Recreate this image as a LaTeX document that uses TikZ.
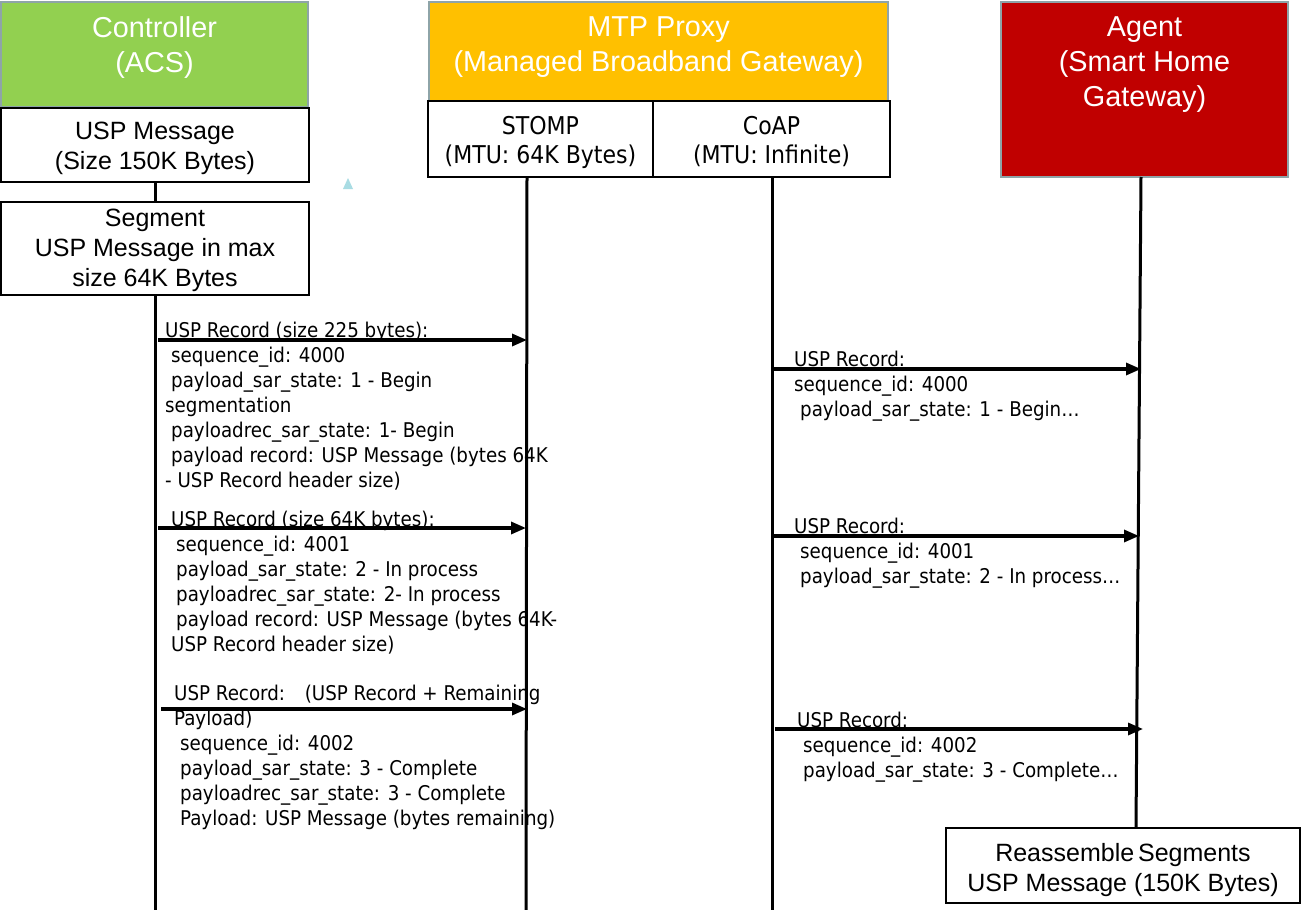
\documentclass[tikz,border=0pt]{standalone}
\usepackage{fontspec}
\setmainfont{Liberation Sans}
\newfontfamily\tah{DejaVu Sans Condensed}
\usetikzlibrary{arrows.meta}
\definecolor{cgreen}{HTML}{92D050}
\definecolor{corange}{HTML}{FFC000}
\definecolor{cred}{HTML}{C00000}
\definecolor{cgray}{HTML}{8EA4A8}
\definecolor{ctri}{HTML}{A9DCE3}
\begin{document}
\begin{tikzpicture}[x=1pt,y=-1pt,
  hdr/.style={draw=cgray,line width=2pt,inner sep=0,outer sep=0},
  wbox/.style={draw=black,line width=2pt,fill=white,inner sep=0,outer sep=0},
  ttl/.style={text=white,align=center,inner sep=0,anchor=north,font=\fontsize{28.8}{35}\selectfont},
  btxt/.style={align=center,inner sep=0,anchor=north,font=\fontsize{25}{30}\selectfont},
  ptxt/.style={align=center,inner sep=0,anchor=north,font=\tah\fontsize{24.5}{29}\selectfont},
  lbl/.style={align=left,inner sep=0,anchor=north west,font=\tah\fontsize{20.3}{25}\selectfont},
  life/.style={line width=3pt},
  msgarrow/.style={line width=3.2pt,-{Triangle[length=15pt,width=12pt]}}]
\useasboundingbox (0,0) rectangle (1302,910);
\fill[white] (0,0) rectangle (1302,910);

% header boxes
\node[hdr,fill=cgreen,minimum width=307pt,minimum height=105pt] (ctrl) at (154.5,54.5) {};
\node[ttl] (ctrlt) at (154.5,16.3) {Controller\\(ACS)};
\node[hdr,fill=corange,minimum width=459pt,minimum height=99pt] (mtp) at (658.5,51.5) {};
\node[ttl] (mtpt) at (658.5,16.3) {MTP Proxy\\(Managed Broadband Gateway)};
\node[hdr,fill=cred,minimum width=287pt,minimum height=175pt] (agent) at (1144.5,89.5) {};
\node[ttl] (agentt) at (1144.5,16.3) {Agent\\(Smart Home\\Gateway)};

% white boxes
\node[wbox,minimum width=308pt,minimum height=74pt] (msg) at (155,145) {};
\node[btxt] (msgt) at (155,121.8) {USP Message\\(Size 150K Bytes)};
\node[wbox,minimum width=308pt,minimum height=93pt] (seg) at (155,248.5) {};
\node[btxt] (segt) at (155,208.8) {Segment\\USP Message in max\\size 64K Bytes};
\node[wbox,minimum width=225pt,minimum height=76pt] (stomp) at (540.5,139) {};
\node[ptxt] (stompt) at (540.5,116.4) {STOMP\\(MTU: 64K Bytes)};
\node[wbox,minimum width=237pt,minimum height=76pt] (coap) at (771.5,139) {};
\node[ptxt] (coapt) at (771.5,116.4) {CoAP\\(MTU: Infinite)};
\node[wbox,minimum width=354pt,minimum height=75pt] (reasm) at (1123,865.5) {};
\node[btxt] (reasmt) at (1123,842.8) {Reassemble\hspace{-3pt} Segments\\USP Message (150K Bytes)};

% small triangle
\fill[ctri] (343,189) -- (348,178) -- (353,189) -- cycle;

% lifeline coordinates
\coordinate (stompTop) at (527,177);
\coordinate (stompBot) at (526,910);
\coordinate (coapTop) at (772,177);
\coordinate (coapBot) at (772,910);
\coordinate (agentTop) at (1141,177);
\coordinate (agentBot) at (1136,828);
\coordinate (ctrlBot) at (155,910);

\draw[life] (msg.south) -- (seg.north);
\draw[life] (seg.south) -- (ctrlBot);
\draw[life] (stompTop) -- (stompBot);
\draw[life] (coapTop) -- (coapBot);
\draw[life] (agentTop) -- (agentBot);

% arrow coordinates
\coordinate (a1s) at (158,340); \coordinate (a1e) at (527,340);
\coordinate (a2s) at (158,528); \coordinate (a2e) at (526,528);
\coordinate (a3s) at (161,709); \coordinate (a3e) at (527,709);
\coordinate (b1s) at (772,369); \coordinate (b1e) at (1141,369);
\coordinate (b2s) at (772,536); \coordinate (b2e) at (1139,536);
\coordinate (b3s) at (775,729); \coordinate (b3e) at (1143,729);

% labels
\node[lbl] (l1) at (165,322) {USP Record (size 225 bytes):\\
\hspace*{6pt}sequence\_id: 4000\\
\hspace*{6pt}payload\_sar\_state: 1 - Begin\\
segmentation\\
\hspace*{6pt}payloadrec\_sar\_state: 1- Begin\\
\hspace*{6pt}payload record: USP Message (bytes 64K\\
- USP Record header size)};
\node[lbl] (l2) at (171,511) {USP Record (size 64K bytes):\\
\hspace*{5pt}sequence\_id: 4001\\
\hspace*{5pt}payload\_sar\_state: 2 - In process\\
\hspace*{5pt}payloadrec\_sar\_state: 2- In process\\
\hspace*{5pt}payload record: USP Message (bytes 64K-\\
USP Record header size)};
\node[lbl] (l3) at (174,685) {USP Record:\hspace{12pt} (USP Record + Remaining\\
Payload)\\
\hspace*{6pt}sequence\_id: 4002\\
\hspace*{6pt}payload\_sar\_state: 3 - Complete\\
\hspace*{6pt}payloadrec\_sar\_state: 3 - Complete\\
\hspace*{6pt}Payload: USP Message (bytes remaining)};
\node[lbl] (r1) at (794,351) {USP Record:\\
sequence\_id: 4000\\
\hspace*{6pt}payload\_sar\_state: 1 - Begin…};
\node[lbl] (r2) at (794,518) {USP Record:\\
\hspace*{6pt}sequence\_id: 4001\\
\hspace*{6pt}payload\_sar\_state: 2 - In process…};
\node[lbl] (r3) at (797,712) {USP Record:\\
\hspace*{6pt}sequence\_id: 4002\\
\hspace*{6pt}payload\_sar\_state: 3 - Complete…};

% arrows
\draw[msgarrow] (a1s) -- (a1e);
\draw[msgarrow] (a2s) -- (a2e);
\draw[msgarrow] (a3s) -- (a3e);
\draw[msgarrow] (b1s) -- (b1e);
\draw[msgarrow] (b2s) -- (b2e);
\draw[msgarrow] (b3s) -- (b3e);
\end{tikzpicture}
\end{document}
